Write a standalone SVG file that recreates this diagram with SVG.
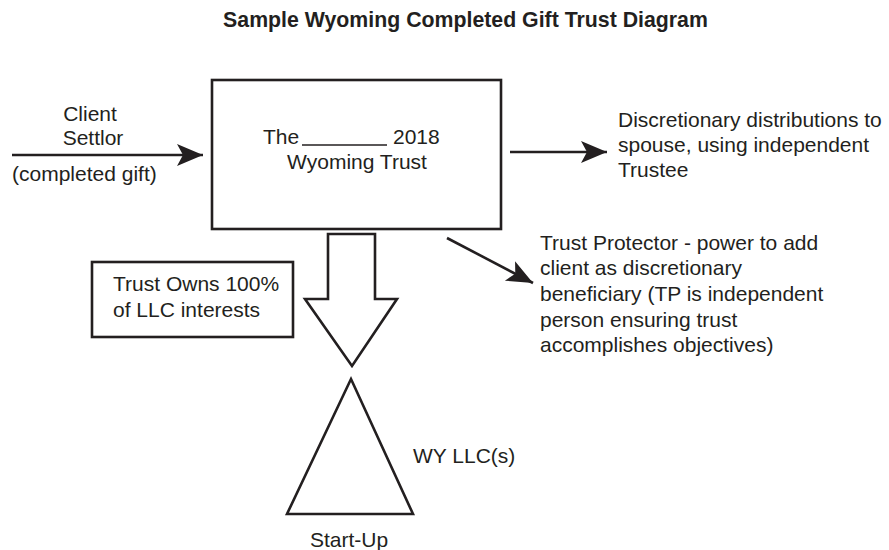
<svg xmlns="http://www.w3.org/2000/svg" width="889" height="550" viewBox="0 0 889 550">
  <style>
    text { font-family: "Liberation Sans", Arial, sans-serif; font-size: 21px; fill: #231f20; }
    .title { font-weight: bold; font-size: 21.3px; }
    .shape { fill: #ffffff; stroke: #231f20; stroke-width: 2.6; }
    .conn { fill: none; stroke: #231f20; stroke-width: 2.6; }
    .head { fill: #231f20; stroke: none; }
  </style>
  <defs>
    <marker id="arrow" markerUnits="userSpaceOnUse" markerWidth="30" markerHeight="24" refX="26" refY="11" orient="auto">
      <path class="head" d="M0,0 L26,11 L0,22 L6,11 Z"/>
    </marker>
  </defs>
  <rect width="889" height="550" fill="#ffffff"/>

  <text class="title" x="465.5" y="27" text-anchor="middle">Sample Wyoming Completed Gift Trust Diagram</text>

  <g id="connectors">
    <line class="conn" x1="12" y1="155" x2="203" y2="155" marker-end="url(#arrow)"/>
    <line class="conn" x1="510" y1="152" x2="607" y2="152" marker-end="url(#arrow)"/>
    <line class="conn" x1="447" y1="238" x2="533" y2="283" marker-end="url(#arrow)"/>
    <path id="down-arrow" class="shape" d="M328,234 L375,234 L375,299 L397,299 L352,366 L305,299 L328,299 Z"/>
  </g>

  <g id="settlor">
    <text x="90" y="121" text-anchor="middle">Client</text>
    <text x="93" y="145" text-anchor="middle">Settlor</text>
    <text x="12" y="181">(completed gift)</text>
  </g>

  <g id="trust">
    <rect class="shape" x="212" y="80" width="289" height="149"/>
    <text x="263" y="144">The</text>
    <line x1="302" y1="145" x2="387" y2="145" stroke="#231f20" stroke-width="1.5"/>
    <text x="393" y="144">2018</text>
    <text x="357" y="169" text-anchor="middle">Wyoming Trust</text>
  </g>

  <g id="distributions">
    <text x="618" y="127">Discretionary distributions to</text>
    <text x="618" y="152">spouse, using independent</text>
    <text x="618" y="177">Trustee</text>
  </g>

  <g id="protector">
    <text x="540" y="250">Trust Protector - power to add</text>
    <text x="540" y="275">client as discretionary</text>
    <text x="540" y="301">beneficiary (TP is independent</text>
    <text x="540" y="327">person ensuring trust</text>
    <text x="540" y="352">accomplishes objectives)</text>
  </g>

  <g id="ownership">
    <rect class="shape" x="92" y="262" width="201" height="75"/>
    <text x="113" y="291">Trust Owns 100%</text>
    <text x="113" y="317">of LLC interests</text>
  </g>

  <g id="llc">
    <path class="shape" d="M351,379 L413,514 L287,514 Z"/>
    <text x="413" y="463">WY LLC(s)</text>
    <text x="349" y="547" text-anchor="middle">Start-Up</text>
  </g>
</svg>
